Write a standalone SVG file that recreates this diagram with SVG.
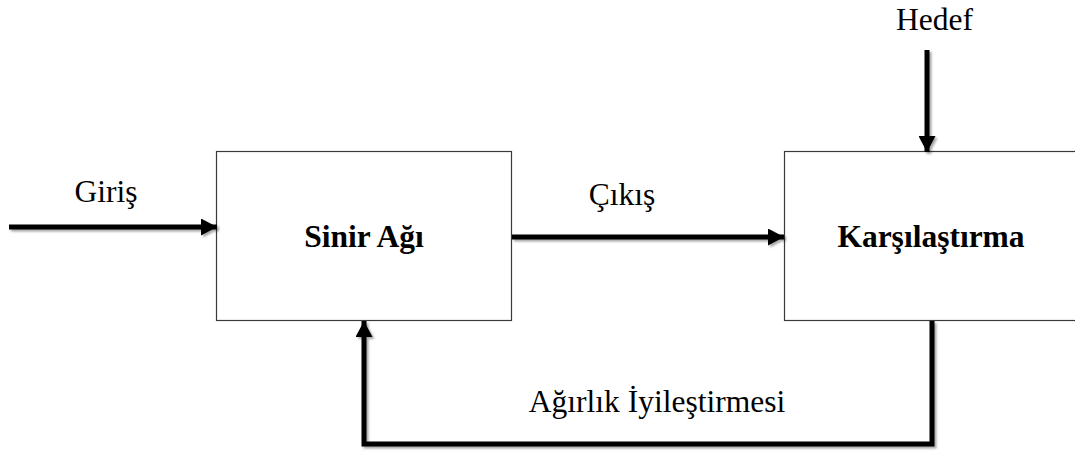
<svg xmlns="http://www.w3.org/2000/svg" width="1075" height="451" viewBox="0 0 1075 451">
  <style>
    .box { fill: #ffffff; stroke: #3a3a3a; stroke-width: 1.2; }
    .label { font-family: "Liberation Serif", "Times New Roman", serif; font-size: 31.5px; fill: #000; }
    .title { font-family: "Liberation Serif", "Times New Roman", serif; font-size: 31.5px; font-weight: bold; fill: #000; }
    .wire { fill: none; stroke: #000; stroke-width: 5; stroke-linejoin: miter; }
  </style>
  <defs>
    <marker id="head" markerUnits="userSpaceOnUse" markerWidth="16" markerHeight="17" refX="16" refY="8.5" orient="auto">
      <path d="M0,0 L16,8.5 L0,17 Z" fill="#000"/>
    </marker>
    <filter id="shade" x="-10%" y="-10%" width="130%" height="130%">
      <feDropShadow dx="2" dy="2" stdDeviation="1.3" flood-color="#000" flood-opacity="0.35"/>
    </filter>
  </defs>

  <g id="sinir-agi">
    <rect class="box" x="216.5" y="151.5" width="295" height="169"/>
    <text class="title" x="364" y="247" text-anchor="middle">Sinir Ağı</text>
  </g>

  <g id="karsilastirma">
    <rect class="box" x="784.5" y="151.5" width="300" height="169"/>
    <text class="title" x="931" y="247" text-anchor="middle">Karşılaştırma</text>
  </g>

  <g id="connectors" filter="url(#shade)">
    <line class="wire" x1="9" y1="227" x2="217" y2="227" marker-end="url(#head)"/>
    <line class="wire" x1="512" y1="237" x2="784" y2="237" marker-end="url(#head)"/>
    <line class="wire" x1="927" y1="50" x2="927" y2="152" marker-end="url(#head)"/>
    <polyline class="wire" points="932,321 932,444 364,444 364,321" marker-end="url(#head)"/>
  </g>

  <g id="labels">
    <text class="label" x="106" y="202" text-anchor="middle">Giriş</text>
    <text class="label" x="622" y="205" text-anchor="middle">Çıkış</text>
    <text class="label" x="934.5" y="30" text-anchor="middle">Hedef</text>
    <text class="label" x="657" y="412" text-anchor="middle">Ağırlık İyileştirmesi</text>
  </g>
</svg>
